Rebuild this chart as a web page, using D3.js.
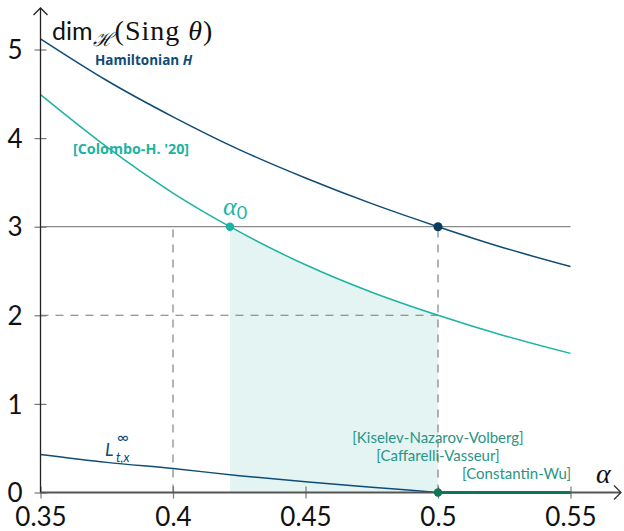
<!DOCTYPE html>
<html>
<head>
<meta charset="utf-8">
<script src="https://cdn.jsdelivr.net/npm/d3@7"></script>
<style>
  html, body { margin: 0; padding: 0; background: #fff; }
  svg { display: block; }
</style>
</head>
<body>
<svg id="chart" width="624" height="531"></svg>
<script>
// ---------- data ----------
const xTicks = [0.35, 0.4, 0.45, 0.5, 0.55];
const yTicks = [0, 1, 2, 3, 4, 5];

const hamAlpha = [0.35, 0.375, 0.40, 0.425, 0.45, 0.475, 0.50, 0.525, 0.55];
const hamValues = [5.12, 4.65, 4.24, 3.87, 3.55, 3.26, 3.00, 2.76, 2.55];

const colAlpha = [0.35, 0.375, 0.40, 0.4215, 0.45, 0.475, 0.50, 0.525, 0.55];
const colValues = [4.49, 3.90, 3.38, 3.00, 2.57, 2.26, 2.00, 1.77, 1.57];

const linfAlpha = [0.35, 0.375, 0.40, 0.425, 0.45, 0.475, 0.50];
const linfValues = [0.43, 0.34, 0.27, 0.19, 0.12, 0.06, 0.00];

const alpha0 = 0.4215;
const threshold = 3;
const criticalAlpha = 0.5;
const dashedAlpha = 0.4;
const dashedLevel = 2;
const regularRange = [0.5, 0.55];

// ---------- colours ----------
const navy = "#0f4c75";
const navyDot = "#0b3a5e";
const teal = "#1db3a3";
const tealText = "#2a9486";
const green = "#0e7556";
const shade = "#e3f4f2";

// ---------- scales ----------
const svg = d3.select("#chart");
const x = d3.scaleLinear().domain([0.35, 0.55]).range([40.5, 570.5]);
const y = d3.scaleLinear().domain([0, 5]).range([492.5, 49.5]);

const sansFont = "Lato, 'Liberation Sans', sans-serif";
const boldFont = "'Open Sans', Lato, sans-serif";
const serifFont = "'Liberation Serif', 'DejaVu Serif', serif";

const zip = (a, b) => a.map((v, i) => [v, b[i]]);
const line = d3.line().x(d => x(d[0])).y(d => y(d[1])).curve(d3.curveMonotoneX);

// shaded region between alpha0 and 0.5 under Colombo curve
const colPts = zip(colAlpha, colValues);
const shadePts = colPts.filter(d => d[0] >= alpha0 - 1e-9 && d[0] <= criticalAlpha + 1e-9);
svg.append("path")
  .attr("d", d3.area().x(d => x(d[0])).y0(y(0)).y1(d => y(d[1])).curve(d3.curveMonotoneX)(shadePts))
  .attr("fill", shade);

// horizontal solid line at 3
svg.append("line")
  .attr("x1", x(0.35)).attr("x2", x(0.55))
  .attr("y1", y(threshold)).attr("y2", y(threshold))
  .attr("stroke", "#8a8a8a").attr("stroke-width", 1.3);

// dashed guides
const dash = "8,7";
svg.append("line")
  .attr("x1", x(dashedAlpha)).attr("x2", x(dashedAlpha))
  .attr("y1", y(0)).attr("y2", y(threshold))
  .attr("stroke", "#777").attr("stroke-width", 1.1).attr("stroke-dasharray", dash);
svg.append("line")
  .attr("x1", x(criticalAlpha)).attr("x2", x(criticalAlpha))
  .attr("y1", y(0)).attr("y2", y(threshold))
  .attr("stroke", "#777").attr("stroke-width", 1.1).attr("stroke-dasharray", dash);
svg.append("line")
  .attr("x1", x(0.35)).attr("x2", x(criticalAlpha))
  .attr("y1", y(dashedLevel)).attr("y2", y(dashedLevel))
  .attr("stroke", "#777").attr("stroke-width", 1.1).attr("stroke-dasharray", dash);

// curves
svg.append("path").attr("d", line(zip(hamAlpha, hamValues)))
  .attr("fill", "none").attr("stroke", navy).attr("stroke-width", 1.5);
svg.append("path").attr("d", line(colPts))
  .attr("fill", "none").attr("stroke", teal).attr("stroke-width", 1.5);
svg.append("path").attr("d", line(zip(linfAlpha, linfValues)))
  .attr("fill", "none").attr("stroke", navy).attr("stroke-width", 1.5);

// axes
const xAxisG = svg.append("g").attr("transform", `translate(0,${y(0)})`);
xAxisG.call(d3.axisBottom(x).tickValues(xTicks).tickSize(0).tickFormat(d3.format("")));
xAxisG.select(".domain").remove();
xAxisG.selectAll(".tick text")
  .attr("dy", 0).attr("y", 33)
  .attr("font-family", sansFont).attr("font-size", 26).attr("fill", "#111");
xAxisG.selectAll(".tick").append("line")
  .attr("y1", -6).attr("y2", 6).attr("stroke", "#777").attr("stroke-width", 1.2);

const yAxisG = svg.append("g").attr("transform", `translate(${x(0.35)},0)`);
yAxisG.call(d3.axisLeft(y).tickValues(yTicks).tickSize(0).tickFormat(d3.format("d")));
yAxisG.select(".domain").remove();
yAxisG.selectAll(".tick text")
  .attr("x", -18).attr("dy", "0.35em")
  .attr("font-family", sansFont).attr("font-size", 26).attr("fill", "#111");
yAxisG.selectAll(".tick").append("line")
  .attr("x1", -6).attr("x2", 6).attr("stroke", "#777").attr("stroke-width", 1.2);

// axis lines with arrows
svg.append("line").attr("x1", x(0.35)).attr("x2", 621).attr("y1", y(0)).attr("y2", y(0))
  .attr("stroke", "#555").attr("stroke-width", 2);
svg.append("path").attr("d", `M${614},${y(0) - 7} L${621},${y(0)} L${614},${y(0) + 7}`)
  .attr("fill", "none").attr("stroke", "#333").attr("stroke-width", 1.3);
svg.append("line").attr("x1", x(0.35)).attr("x2", x(0.35)).attr("y1", y(0)).attr("y2", 8)
  .attr("stroke", "#222").attr("stroke-width", 1.3);
svg.append("path").attr("d", `M${x(0.35) - 7},${15} L${x(0.35)},${8} L${x(0.35) + 7},${15}`)
  .attr("fill", "none").attr("stroke", "#222").attr("stroke-width", 1.3);

// thick green regular segment
svg.append("line")
  .attr("x1", x(regularRange[0])).attr("x2", x(regularRange[1]))
  .attr("y1", y(0)).attr("y2", y(0))
  .attr("stroke", green).attr("stroke-width", 3);

// points
svg.append("circle").attr("cx", x(alpha0)).attr("cy", y(threshold)).attr("r", 4.2).attr("fill", teal);
svg.append("circle").attr("cx", x(criticalAlpha)).attr("cy", y(threshold)).attr("r", 4.5).attr("fill", navyDot);
svg.append("circle").attr("cx", x(criticalAlpha)).attr("cy", y(0)).attr("r", 4.2).attr("fill", green);

// ---------- labels ----------
// y axis title: dim_H(Sing θ)
const yt = svg.append("text").attr("x", 52).attr("y", 40).attr("fill", "#111");
yt.append("tspan").attr("font-family", sansFont).attr("font-size", 25).text("dim");
yt.append("tspan").attr("font-family", serifFont).attr("font-style", "italic").attr("font-size", 19).attr("dy", 6).text("ℋ");
yt.append("tspan").attr("font-family", serifFont).attr("font-size", 28).attr("letter-spacing", 1).attr("dy", -6).attr("dx", 2).text("(Sing ");
yt.append("tspan").attr("font-family", serifFont).attr("font-style", "italic").attr("font-size", 28).attr("letter-spacing", 1).text("θ");
yt.append("tspan").attr("font-family", serifFont).attr("font-size", 28).text(")");

// x axis title α
svg.append("text").attr("x", 596).attr("y", 483)
  .attr("font-family", serifFont).attr("font-style", "italic").attr("font-size", 28).attr("fill", "#111").text("α");

// Hamiltonian H
const ht = svg.append("text").attr("x", 95).attr("y", 65).attr("fill", navy)
  .attr("font-family", boldFont).attr("font-weight", "bold").attr("font-size", 13.5);
ht.append("tspan").text("Hamiltonian ");
ht.append("tspan").attr("font-style", "italic").text("H");

// Colombo-H.
svg.append("text").attr("x", 73).attr("y", 154).attr("fill", teal)
  .attr("font-family", boldFont).attr("font-weight", "bold").attr("font-size", 14.3)
  .text("[Colombo-H. '20]");

// α0
const a0 = svg.append("text").attr("x", 223).attr("y", 215).attr("fill", teal);
a0.append("tspan").attr("font-family", serifFont).attr("font-style", "italic").attr("font-size", 26).text("α");
a0.append("tspan").attr("font-family", sansFont).attr("font-size", 18).attr("dy", 4).text("0");

// L∞_{t,x}
const lt = svg.append("text").attr("x", 105).attr("y", 456).attr("fill", navy)
  .attr("font-family", sansFont).attr("font-style", "italic");
lt.append("tspan").attr("font-size", 18).text("L");
lt.append("tspan").attr("x", 117).attr("y", 443).attr("font-size", 16).attr("font-style", "normal").text("∞");
lt.append("tspan").attr("x", 116).attr("y", 462).attr("font-size", 13).text("t,x");

// citations
const cite = [
  {t: "[Kiselev-Nazarov-Volberg]", x: 438, y: 443, anchor: "middle"},
  {t: "[Caffarelli-Vasseur]", x: 438, y: 461, anchor: "middle"},
  {t: "[Constantin-Wu]", x: 571, y: 479, anchor: "end"}
];
svg.selectAll("text.cite").data(cite).enter().append("text")
  .attr("class", "cite")
  .attr("x", d => d.x).attr("y", d => d.y).attr("text-anchor", d => d.anchor)
  .attr("font-family", sansFont).attr("font-size", 15).attr("fill", tealText)
  .text(d => d.t);
</script>
</body>
</html>
